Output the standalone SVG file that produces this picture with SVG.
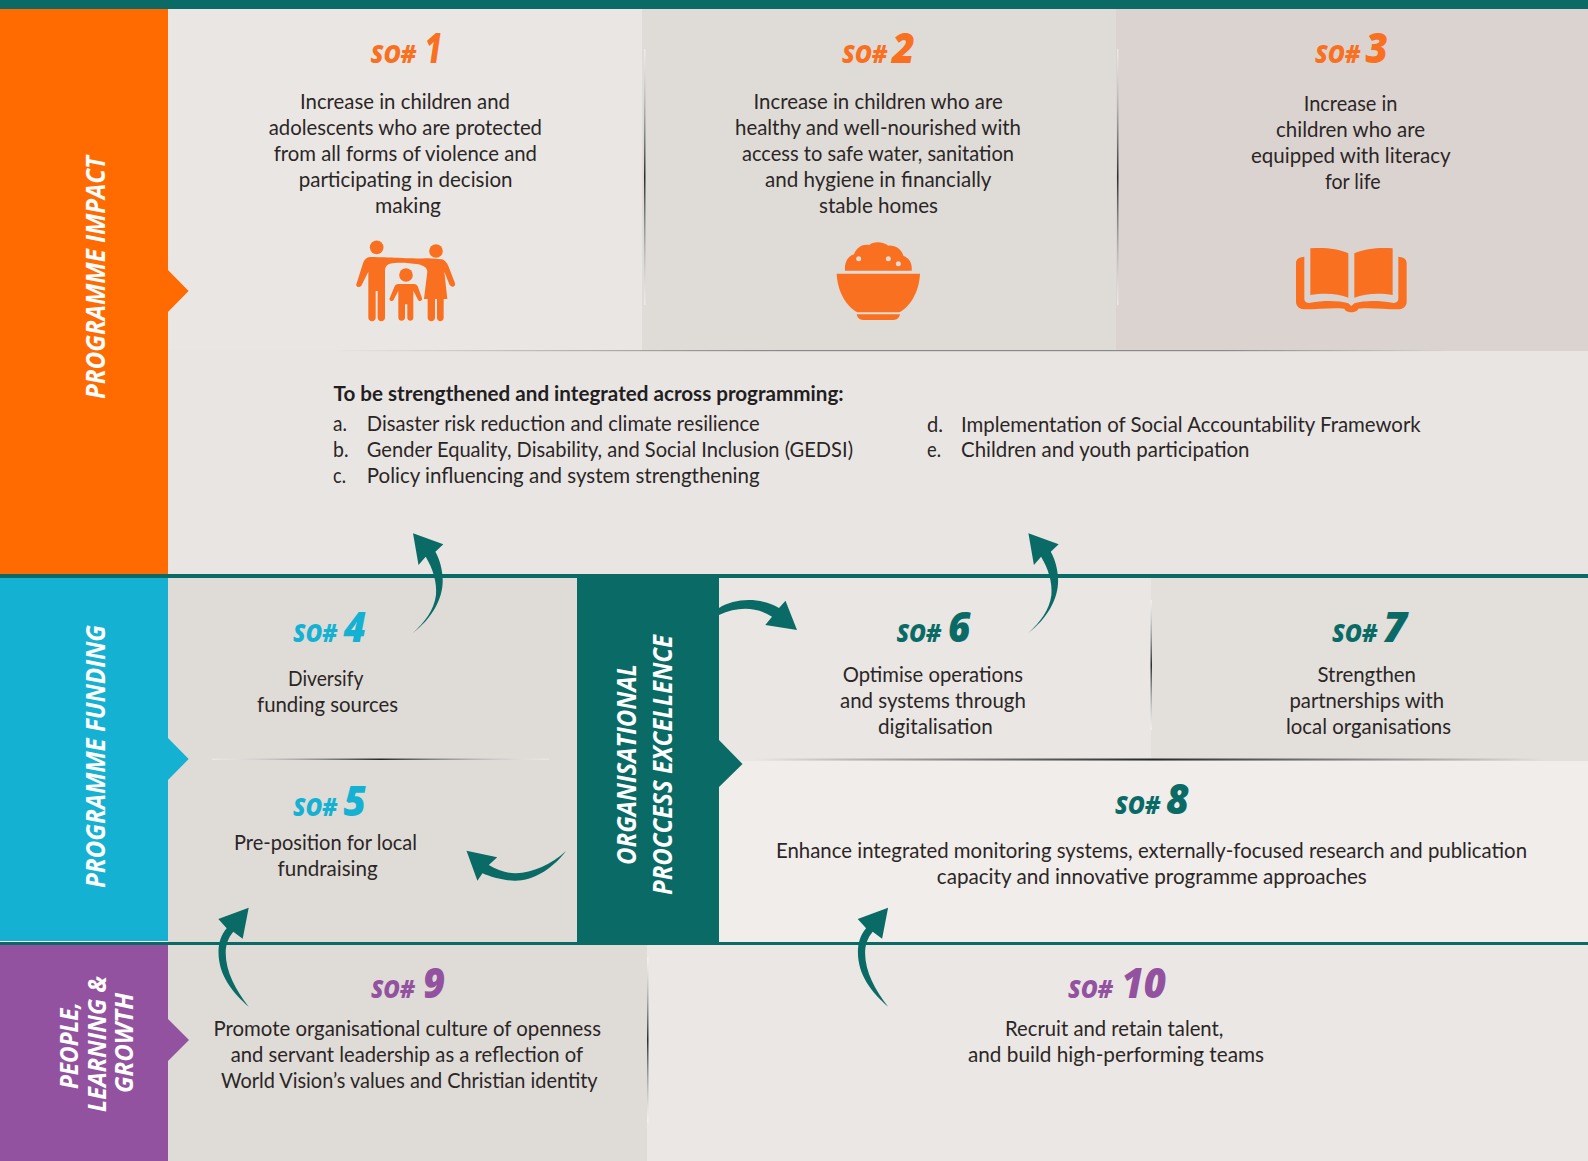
<svg xmlns="http://www.w3.org/2000/svg" width="1588" height="1161" viewBox="0 0 1588 1161">
<style>
text{font-family:"Lato","Open Sans","Liberation Sans",sans-serif}
.b{font-size:20.6px;fill:#2b2626}
.h{font-weight:700;font-size:20.6px;fill:#221e1f}
.so{font-family:"Open Sans","Lato",sans-serif;font-weight:800;font-style:italic;font-size:25px}
.n{font-family:"Open Sans","Lato",sans-serif;font-weight:800;font-style:italic;font-size:42px}
.v{font-family:"Open Sans","Lato",sans-serif;font-weight:700;font-style:italic;font-size:27px;fill:#fff}
.v2{font-size:25px}
.o{fill:#f97021}.bl{fill:#15b1d3}.t{fill:#0a6b66}.p{fill:#9352a0}
.arrow{fill:#0a6b66}
</style>
<defs>
<linearGradient id="sv" x1="0" y1="0" x2="0" y2="1"><stop offset="0" stop-color="#fff" stop-opacity=".45"/><stop offset=".5" stop-color="#26302f"/><stop offset="1" stop-color="#fff" stop-opacity=".45"/></linearGradient>
<linearGradient id="sh" x1="0" y1="0" x2="1" y2="0"><stop offset="0" stop-color="#fff" stop-opacity=".3"/><stop offset=".5" stop-color="#26282a"/><stop offset="1" stop-color="#fff" stop-opacity=".3"/></linearGradient>
<linearGradient id="sh2" x1="0" y1="0" x2="1" y2="0"><stop offset="0" stop-color="#26282a" stop-opacity="0"/><stop offset=".5" stop-color="#26282a"/><stop offset="1" stop-color="#26282a" stop-opacity="0"/></linearGradient>
<linearGradient id="sg" x1="0" y1="0" x2="1" y2="0"><stop offset="0" stop-color="#8a8a88" stop-opacity="0"/><stop offset=".4" stop-color="#8a8a88"/><stop offset=".8" stop-color="#8a8a88"/><stop offset="1" stop-color="#8a8a88" stop-opacity="0"/></linearGradient>
<path id="upR" d="M413,633C431,619 443,600 442.7,580C442.5,570 440,560 435.4,551.7L443.3,544.3L413,533.3L418.5,565L425.7,556.7C433,569 437,582 436,595C434,610 425,622 413,633Z"/>
<path id="upL" d="M248.7,1006.7C232,992 218.5,975 218.5,952C218.5,943 221,935 226.7,928.3L218.3,919L248.7,907.7L242.7,938.7L233.3,931.7C228,938 225.7,945 225.7,953C225.7,972 236,990 248.7,1006.7Z"/>
</defs>

<g id="panels">
<rect x="168" y="9" width="474" height="342" fill="#eae6e3"/>
<rect x="642" y="9" width="474" height="342" fill="#dfdbd7"/>
<rect x="1116" y="9" width="472" height="342" fill="#dbd3d0"/>
<rect x="168" y="351" width="1420" height="223" fill="#e9e5e2"/>
<rect x="168" y="578" width="409" height="364" fill="#dfdbd7"/>
<rect x="719" y="578" width="432" height="183" fill="#eae6e3"/>
<rect x="1151" y="578" width="437" height="183" fill="#e3dfdb"/>
<rect x="719" y="761" width="869" height="181" fill="#f1edea"/>
<rect x="168" y="945" width="479" height="216" fill="#dfdbd7"/>
<rect x="647" y="945" width="941" height="216" fill="#ebe7e4"/>
<rect x="0" y="0" width="1588" height="9" fill="#0a6b66"/>
<rect x="0" y="574" width="1588" height="4" fill="#0a6b66"/>
<rect x="0" y="942" width="1588" height="3" fill="#0a6b66"/>
<rect x="644" y="49" width="1.5" height="256" fill="url(#sv)"/>
<rect x="1117" y="49" width="1.5" height="256" fill="url(#sv)"/>
<rect x="1150.5" y="600" width="1.5" height="130" fill="url(#sv)"/>
<rect x="647" y="957" width="1.5" height="166" fill="url(#sv)"/>
<rect x="212" y="758.5" width="337" height="1.5" fill="url(#sh)"/>
<rect x="755" y="758.5" width="789" height="2" fill="url(#sh2)"/>
<rect x="326" y="350" width="1124" height="1.2" fill="url(#sg)"/>
</g>

<g id="band-programme-impact">
<path d="M0,9H168V270L188.6,291L168,312V574H0Z" fill="#ff6b00"/>
<text class="v" transform="translate(105,399) rotate(-90)" textLength="243" lengthAdjust="spacingAndGlyphs">PROGRAMME IMPACT</text>
</g>
<g id="band-programme-funding">
<path d="M0,578H168V738L188.7,759L168,780V941H0Z" fill="#15b1d3"/>
<text class="v" transform="translate(105,888) rotate(-90)" textLength="263" lengthAdjust="spacingAndGlyphs">PROGRAMME FUNDING</text>
</g>
<g id="band-organisational">
<path d="M577,578H719V740L742.5,764L719,787V942H577Z" fill="#0a6b66"/>
<text class="v" transform="translate(636,865) rotate(-90)" textLength="201" lengthAdjust="spacingAndGlyphs">ORGANISATIONAL</text>
<text class="v" transform="translate(672,895) rotate(-90)" textLength="260" lengthAdjust="spacingAndGlyphs">PROCCESS EXCELLENCE</text>
</g>
<g id="band-people">
<path d="M0,945H168V1019L189,1040L168,1061V1161H0Z" fill="#9352a0"/>
<text class="v v2" transform="translate(78,1089) rotate(-90)" textLength="87" lengthAdjust="spacingAndGlyphs">PEOPLE,</text>
<text class="v v2" transform="translate(105.5,1112) rotate(-90)" textLength="136" lengthAdjust="spacingAndGlyphs">LEARNING &amp;</text>
<text class="v v2" transform="translate(133,1093) rotate(-90)" textLength="100" lengthAdjust="spacingAndGlyphs">GROWTH</text>
</g>

<g id="so1">
<text class="so o" x="370.5" y="63" textLength="45.5" lengthAdjust="spacingAndGlyphs">SO#</text>
<text class="n o" x="425" y="63" textLength="17" lengthAdjust="spacingAndGlyphs">1</text>
<text class="b" x="300" y="109" textLength="210" lengthAdjust="spacingAndGlyphs">Increase in children and</text>
<text class="b" x="268.7" y="135" textLength="273.3" lengthAdjust="spacingAndGlyphs">adolescents who are protected</text>
<text class="b" x="273.7" y="161" textLength="263.3" lengthAdjust="spacingAndGlyphs">from all forms of violence and</text>
<text class="b" x="298.7" y="187" textLength="213.8" lengthAdjust="spacingAndGlyphs">participating in decision</text>
<text class="b" x="375" y="213" textLength="66" lengthAdjust="spacingAndGlyphs">making</text>
<g class="o" transform="translate(340,225) scale(.3333)">
<circle cx="110" cy="67" r="20.5"/><circle cx="288" cy="78" r="20.5"/><circle cx="198" cy="150" r="20.5"/>
<path d="M90,96C130,96 230,102 265,100L305,103C315,105 322,115 326,125L345,175C348,186 333,190 328,178L313,140L322,222L311,222L311,278C311,292 291,292 291,278L291,222L285,222L285,278C285,292 263,292 263,278L263,222L252,222L262,140C262,128 250,122 235,118C200,112 170,112 150,116C138,120 135,128 135,140L135,278C135,292 113,292 113,278L113,198L107,198L107,278C107,292 85,292 85,278L85,140L64,182C58,190 44,185 50,175L68,118C72,105 80,96 90,96Z"/>
<path d="M175,177L222,177C228,177 232,181 234,186L246,220C248,228 238,232 234,224L220,197L220,278C220,290 202,290 202,278L202,238L195,238L195,278C195,290 175,290 175,278L175,197L161,224C157,232 146,228 149,220L163,186C165,181 169,177 175,177Z"/>
</g>
</g>

<g id="so2">
<text class="so o" x="842" y="63" textLength="45" lengthAdjust="spacingAndGlyphs">SO#</text>
<text class="n o" x="892" y="63" textLength="23" lengthAdjust="spacingAndGlyphs">2</text>
<text class="b" x="753.5" y="109" textLength="249.2" lengthAdjust="spacingAndGlyphs">Increase in children who are</text>
<text class="b" x="735" y="135" textLength="286" lengthAdjust="spacingAndGlyphs">healthy and well-nourished with</text>
<text class="b" x="742" y="161" textLength="272" lengthAdjust="spacingAndGlyphs">access to safe water, sanitation</text>
<text class="b" x="765" y="187" textLength="226.5" lengthAdjust="spacingAndGlyphs">and hygiene in financially</text>
<text class="b" x="819" y="213" textLength="119" lengthAdjust="spacingAndGlyphs">stable homes</text>
<g class="o" transform="translate(810,225) scale(.3333)">
<path d="M105,137L305,137C307,115 300,100 280,92C275,72 255,60 235,62C222,50 190,47 178,60C160,56 140,65 132,88C115,93 103,110 105,137Z"/>
<path d="M80,146L330,146C328,200 300,245 268,262L142,262C110,245 82,200 80,146Z"/>
<path d="M140,268L270,268C268,278 262,285 250,285L160,285C148,285 142,278 140,268Z"/>
<g fill="#dfdbd7"><circle cx="146" cy="101" r="7.5"/><circle cx="235" cy="101" r="7.5"/><circle cx="265" cy="116" r="7.5"/></g>
</g>
</g>

<g id="so3">
<text class="so o" x="1315" y="63" textLength="45" lengthAdjust="spacingAndGlyphs">SO#</text>
<text class="n o" x="1365.6" y="63" textLength="22.4" lengthAdjust="spacingAndGlyphs">3</text>
<text class="b" x="1303.7" y="111" textLength="93.8" lengthAdjust="spacingAndGlyphs">Increase in</text>
<text class="b" x="1276" y="137" textLength="149" lengthAdjust="spacingAndGlyphs">children who are</text>
<text class="b" x="1251" y="163" textLength="199.6" lengthAdjust="spacingAndGlyphs">equipped with literacy</text>
<text class="b" x="1325" y="189" textLength="55.5" lengthAdjust="spacingAndGlyphs">for life</text>
<g class="o" transform="translate(1265,230) scale(.3333)">
<path d="M136,55C175,52 220,55 250,70L250,203C220,190 175,188 136,195Z"/>
<path d="M268,70C300,55 345,52 383,55L383,195C345,188 300,190 268,203Z"/>
<path d="M118,80C105,81 93,85 93,100L93,215C93,230 105,238 120,238C160,238 200,232 238,236C242,250 276,250 280,236C318,232 358,238 398,238C413,238 425,230 425,215L425,100C425,85 413,81 400,80L400,205C400,218 390,220 382,218C345,212 300,210 268,220L259,228L250,220C218,210 172,212 136,218C128,220 118,218 118,205Z"/>
</g>
</g>

<g id="cross-cutting">
<text class="h" x="333.6" y="401" textLength="510" lengthAdjust="spacingAndGlyphs">To be strengthened and integrated across programming:</text>
<text class="b" x="333" y="430.7" textLength="14" lengthAdjust="spacingAndGlyphs">a.</text>
<text class="b" x="366.8" y="430.7" textLength="392.8" lengthAdjust="spacingAndGlyphs">Disaster risk reduction and climate resilience</text>
<text class="b" x="333" y="456.7" textLength="15.5" lengthAdjust="spacingAndGlyphs">b.</text>
<text class="b" x="366.8" y="456.7" textLength="486.2" lengthAdjust="spacingAndGlyphs">Gender Equality, Disability, and Social Inclusion (GEDSI)</text>
<text class="b" x="333" y="483" textLength="13" lengthAdjust="spacingAndGlyphs">c.</text>
<text class="b" x="366.8" y="483" textLength="392.8" lengthAdjust="spacingAndGlyphs">Policy influencing and system strengthening</text>
<text class="b" x="927" y="431.7" textLength="16" lengthAdjust="spacingAndGlyphs">d.</text>
<text class="b" x="961" y="431.7" textLength="459.7" lengthAdjust="spacingAndGlyphs">Implementation of Social Accountability Framework</text>
<text class="b" x="927" y="457.3" textLength="14" lengthAdjust="spacingAndGlyphs">e.</text>
<text class="b" x="961" y="457.3" textLength="288.5" lengthAdjust="spacingAndGlyphs">Children and youth participation</text>
</g>

<g id="so4">
<text class="so bl" x="293" y="642" textLength="44" lengthAdjust="spacingAndGlyphs">SO#</text>
<text class="n bl" x="343.6" y="642" textLength="22.4" lengthAdjust="spacingAndGlyphs">4</text>
<text class="b" x="288" y="686" textLength="75.4" lengthAdjust="spacingAndGlyphs">Diversify</text>
<text class="b" x="257" y="712" textLength="141" lengthAdjust="spacingAndGlyphs">funding sources</text>
</g>
<g id="so5">
<text class="so bl" x="293" y="816" textLength="44" lengthAdjust="spacingAndGlyphs">SO#</text>
<text class="n bl" x="343.6" y="816" textLength="22.4" lengthAdjust="spacingAndGlyphs">5</text>
<text class="b" x="234" y="850" textLength="183" lengthAdjust="spacingAndGlyphs">Pre-position for local</text>
<text class="b" x="277.5" y="876" textLength="100.2" lengthAdjust="spacingAndGlyphs">fundraising</text>
</g>
<g id="so6">
<text class="so t" x="896.5" y="642" textLength="44.5" lengthAdjust="spacingAndGlyphs">SO#</text>
<text class="n t" x="948" y="642" textLength="22.4" lengthAdjust="spacingAndGlyphs">6</text>
<text class="b" x="842.7" y="681.7" textLength="180.3" lengthAdjust="spacingAndGlyphs">Optimise operations</text>
<text class="b" x="840" y="707.7" textLength="185.8" lengthAdjust="spacingAndGlyphs">and systems through</text>
<text class="b" x="878" y="733.5" textLength="114.8" lengthAdjust="spacingAndGlyphs">digitalisation</text>
</g>
<g id="so7">
<text class="so t" x="1332" y="642" textLength="45" lengthAdjust="spacingAndGlyphs">SO#</text>
<text class="n t" x="1383" y="642" textLength="24" lengthAdjust="spacingAndGlyphs">7</text>
<text class="b" x="1317.5" y="681.7" textLength="98.5" lengthAdjust="spacingAndGlyphs">Strengthen</text>
<text class="b" x="1289.5" y="707.7" textLength="154.5" lengthAdjust="spacingAndGlyphs">partnerships with</text>
<text class="b" x="1286" y="733.5" textLength="165" lengthAdjust="spacingAndGlyphs">local organisations</text>
</g>
<g id="so8">
<text class="so t" x="1115" y="814" textLength="45" lengthAdjust="spacingAndGlyphs">SO#</text>
<text class="n t" x="1166" y="814" textLength="23" lengthAdjust="spacingAndGlyphs">8</text>
<text class="b" x="776" y="857.7" textLength="751" lengthAdjust="spacingAndGlyphs">Enhance integrated monitoring systems, externally-focused research and publication</text>
<text class="b" x="936.8" y="884" textLength="430" lengthAdjust="spacingAndGlyphs">capacity and innovative programme approaches</text>
</g>
<g id="so9">
<text class="so p" x="371" y="997.7" textLength="43.5" lengthAdjust="spacingAndGlyphs">SO#</text>
<text class="n p" x="423" y="997.7" textLength="22" lengthAdjust="spacingAndGlyphs">9</text>
<text class="b" x="213.5" y="1035.7" textLength="387.5" lengthAdjust="spacingAndGlyphs">Promote organisational culture of openness</text>
<text class="b" x="230.8" y="1062" textLength="352.2" lengthAdjust="spacingAndGlyphs">and servant leadership as a reflection of</text>
<text class="b" x="221" y="1087.5" textLength="376.6" lengthAdjust="spacingAndGlyphs">World Vision’s values and Christian identity</text>
</g>
<g id="so10">
<text class="so p" x="1068" y="997.7" textLength="44.6" lengthAdjust="spacingAndGlyphs">SO#</text>
<text class="n p" x="1121.5" y="997.7" textLength="44.5" lengthAdjust="spacingAndGlyphs">10</text>
<text class="b" x="1005" y="1036" textLength="218.4" lengthAdjust="spacingAndGlyphs">Recruit and retain talent,</text>
<text class="b" x="968" y="1062" textLength="296" lengthAdjust="spacingAndGlyphs">and build high-performing teams</text>
</g>

<g id="connectors">
<use href="#upR" class="arrow"/>
<use href="#upR" class="arrow" x="615.4"/>
<path class="arrow" d="M719,608C735,598 760,597 779,608L785.5,600.7L797,630L765.3,625L772,616.7C757,607 738,606 719,615Z"/>
<path class="arrow" d="M566,851C550,872 530,881 515,880.7C503,880.5 491,877 482.5,873.3L477.4,880.7L466.5,850.7L497.2,857.3L488.8,865C497,870 507,873.5 516,873.3C532,873 552,864 566,851Z"/>
<use href="#upL" class="arrow"/>
<use href="#upL" class="arrow" x="639.4"/>
</g>
</svg>
